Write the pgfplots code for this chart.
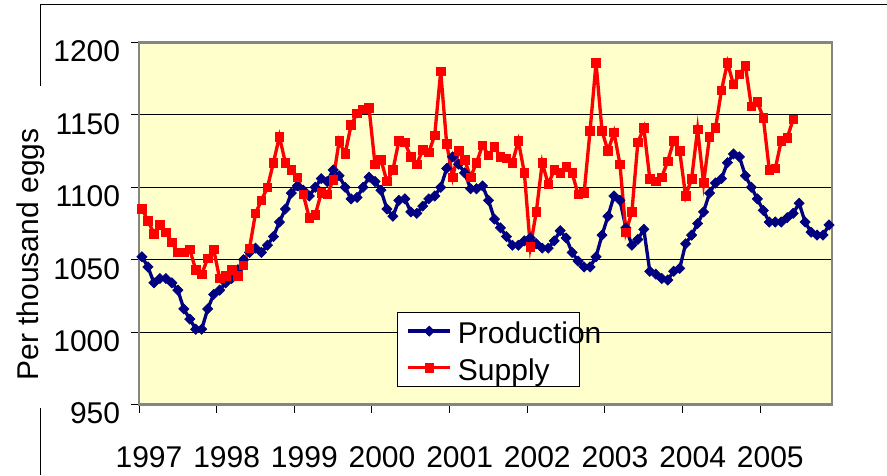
\documentclass[border=0pt]{standalone}
\usepackage{fontspec}
\setmainfont{Liberation Sans}
\usepackage{pgfplots}
\usepackage{pgfplotstable}
\pgfplotsset{compat=1.18}
\definecolor{bgyellow}{HTML}{FFFFCC}
\definecolor{prodblue}{HTML}{000080}
\definecolor{supred}{HTML}{FF0000}
\definecolor{framegray}{HTML}{858585}

\pgfplotstableread{
i v
0 1052
1 1045
2 1034
3 1037
4 1037
5 1034
6 1029
7 1016
8 1009
9 1002
10 1002
11 1016
12 1026
13 1029
14 1034
15 1037
16 1043
17 1050
18 1055
19 1058
20 1055
21 1060
22 1066
23 1076
24 1085
25 1096
26 1101
27 1098
28 1094
29 1100
30 1106
31 1104
32 1112
33 1108
34 1100
35 1092
36 1093
37 1100
38 1107
39 1104
40 1098
41 1085
42 1080
43 1091
44 1092
45 1083
46 1082
47 1087
48 1092
49 1094
50 1100
51 1113
52 1121
53 1116
54 1110
55 1099
56 1099
57 1101
58 1091
59 1078
60 1072
61 1066
62 1060
63 1060
64 1063
65 1065
66 1061
67 1058
68 1058
69 1063
70 1070
71 1065
72 1055
73 1049
74 1045
75 1045
76 1052
77 1067
78 1080
79 1094
80 1091
81 1072
82 1060
83 1064
84 1071
85 1042
86 1040
87 1037
88 1036
89 1042
90 1044
91 1061
92 1067
93 1075
94 1083
95 1096
96 1103
97 1106
98 1117
99 1123
100 1121
101 1108
102 1100
103 1092
104 1084
105 1076
106 1076
107 1076
108 1079
109 1082
110 1089
111 1076
112 1069
113 1067
114 1067
115 1074
}\prodtable

\pgfplotstableread{
i v
0 1085
1 1077
2 1068
3 1074
4 1069
5 1062
6 1055
7 1055
8 1057
9 1043
10 1040
11 1051
12 1057
13 1037
14 1039
15 1043
16 1039
17 1046
18 1058
19 1082
20 1091
21 1100
22 1117
23 1135
24 1117
25 1112
26 1107
27 1095
28 1079
29 1081
30 1096
31 1095
32 1105
33 1132
34 1123
35 1143
36 1151
37 1154
38 1155
39 1116
40 1119
41 1104
42 1112
43 1132
44 1131
45 1121
46 1116
47 1126
48 1124
49 1136
50 1180
51 1130
52 1107
53 1125
54 1119
55 1107
56 1117
57 1129
58 1122
59 1128
60 1121
61 1120
62 1117
63 1132
64 1110
65 1059
66 1083
67 1117
68 1102
69 1112
70 1110
71 1114
72 1110
73 1095
74 1096
75 1139
76 1186
77 1139
78 1125
79 1138
80 1116
81 1069
82 1083
83 1131
84 1141
85 1106
86 1104
87 1107
88 1118
89 1132
90 1125
91 1094
92 1106
93 1140
94 1103
95 1135
96 1141
97 1167
98 1186
99 1171
100 1178
101 1184
102 1156
103 1159
104 1148
105 1112
106 1113
107 1132
108 1134
109 1147
}\supplytable

\begin{document}
\begin{tikzpicture}
\useasboundingbox (0pt,0pt) rectangle (665.25pt,356.25pt);
\fill[white] (0pt,0pt) rectangle (665.25pt,356.25pt);
\draw[black, line width=0.75pt] (30pt,291.75pt) -- (30pt,352.5pt) -- (665.25pt,352.5pt);
\draw[black, line width=0.75pt] (30pt,50.25pt) -- (30pt,0pt);
\begin{axis}[
  at={(104.25pt,52.875pt)}, anchor=south west,
  scale only axis, width=519.75pt, height=271.5pt,
  xmin=-0.5, xmax=115.5, ymin=950, ymax=1200,
  axis background/.style={fill=bgyellow},
  axis line style={draw=framegray, line width=1.9pt},
  xtick={-0.5,12.5,25.5,38.5,51.5,64.5,77.5,90.5,103.5},
  xticklabels={1997,1998,1999,2000,2001,2002,2003,2004,2005},
  ytick={950,1000,1050,1100,1150,1200},
  yticklabels={950,1000,1050,1100,1150,1200},
  tick pos=left, tick align=outside,
  major tick length=6pt,
  tick style={black, line width=0.75pt},
  ymajorgrids, major grid style={black, line width=0.75pt},
  tick label style={font=\fontsize{22.5}{27}\selectfont, inner sep=0pt},
  xticklabel style={anchor=base, xshift=7.5pt, yshift=-40.9pt},
  yticklabel style={anchor=base east, xshift=-8pt, yshift=-14.5pt},
  legend style={at={(0.372,0.256)}, anchor=north west, draw=black, line width=0.75pt,
    fill=white, inner xsep=7pt, inner ysep=3pt, row sep=5.3pt,
    font=\fontsize{22.5}{27}\selectfont, nodes={inner sep=0pt},
    /tikz/every odd column/.append style={column sep=4.5pt}},
  legend cell align=left,
  legend image code/.code={\draw[mark repeat=2,mark phase=2] plot coordinates {(0pt,0pt) (15.75pt,0pt) (31.5pt,0pt)};},
]
\addplot[prodblue, line width=2.5pt, mark=square*, mark size=2.7pt,
  mark options={rotate=45, solid, line width=0.5pt}] table[x=i,y=v]{\prodtable};
\addlegendentry{\raisebox{0pt}[20.7pt][0pt]{\makebox[83.8pt][l]{Production}}}
\addplot[supred, line width=2.5pt, mark=square*, mark size=3.2pt,
  mark options={solid, line width=0.5pt}] table[x=i,y=v]{\supplytable};
\addlegendentry{\raisebox{0pt}[20.7pt][0pt]{\makebox[83.8pt][l]{Supply}}}
\end{axis}
\node[rotate=90, font=\fontsize{22.5}{27}\selectfont, inner sep=0pt] at (22.9pt,165.4pt) {Per thousand eggs};
\end{tikzpicture}
\end{document}
